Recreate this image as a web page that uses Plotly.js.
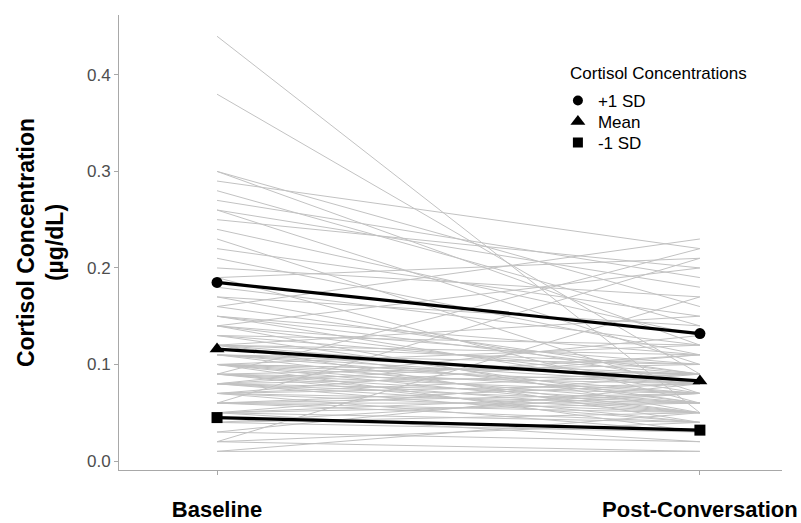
<!DOCTYPE html>
<html>
<head>
<meta charset="utf-8">
<script src="https://cdn.plot.ly/plotly-3.0.1.min.js"></script>
<style>html,body{margin:0;padding:0;background:#fff;}#chart{width:801px;height:523px;}</style>
</head>
<body>
<div id="chart"></div>
<script>
// Time points (categories)
const timeLabels = ["Baseline", "Post-Conversation"];
const timeX = [0, 1];

// Individual participants: baseline and post-conversation cortisol (µg/dL)
const baseline = [0.44,0.38,0.30,0.30,0.29,0.28,0.27,0.26,0.26,0.25,0.24,0.23,0.22,0.21,0.20,0.19,0.19,0.18,0.17,0.17,
  0.16,0.16,0.15,0.15,0.14,0.14,0.13,0.13,0.12,0.12,0.12,0.11,0.11,0.11,0.10,0.10,0.10,0.10,0.09,0.09,
  0.09,0.09,0.08,0.08,0.08,0.08,0.07,0.07,0.07,0.07,0.06,0.06,0.06,0.06,0.05,0.05,0.05,0.05,0.04,0.04,
  0.04,0.03,0.03,0.02,0.02,0.01,0.01,0.02,0.14,0.12,0.10,0.08,
  0.13,0.12,0.11,0.11,0.10,0.10,0.09,0.09,0.08,0.08,0.07,0.07,0.06,0.06,0.05,0.14,0.15,0.12,0.10,0.09];
const post = [0.05,0.09,0.16,0.12,0.22,0.14,0.19,0.10,0.18,0.20,0.13,0.07,0.15,0.11,0.17,0.06,0.21,0.12,0.08,0.14,
  0.09,0.23,0.11,0.07,0.05,0.10,0.06,0.12,0.08,0.04,0.10,0.07,0.09,0.05,0.08,0.06,0.12,0.03,0.07,0.10,
  0.05,0.22,0.06,0.09,0.04,0.13,0.05,0.08,0.03,0.11,0.04,0.07,0.06,0.21,0.04,0.09,0.02,0.06,0.05,0.03,
  0.07,0.02,0.08,0.04,0.01,0.05,0.01,0.17,0.20,0.15,0.09,0.11,
  0.09,0.06,0.08,0.10,0.07,0.09,0.06,0.08,0.07,0.05,0.06,0.09,0.05,0.08,0.07,0.08,0.09,0.11,0.05,0.04];

// Summary lines
const summaryNames = ["+1 SD", "Mean", "-1 SD"];
const summaryBaseline = [0.185, 0.116, 0.045];
const summaryPost = [0.132, 0.083, 0.032];
const summarySymbols = ["circle", "triangle-up", "square"];
const legendTitle = "Cortisol Concentrations";

const traces = [];
for (let i = 0; i < baseline.length; i++) {
  traces.push({
    x: timeX, y: [baseline[i], post[i]], type: "scatter", mode: "lines",
    line: {color: "#c2c2c2", width: 1}, showlegend: false, hoverinfo: "skip"
  });
}
for (let k = 0; k < summaryNames.length; k++) {
  traces.push({
    x: timeX, y: [summaryBaseline[k], summaryPost[k]], type: "scatter", mode: "lines+markers",
    line: {color: "#000", width: 3.2},
    marker: {symbol: summarySymbols[k], color: "#000", size: summarySymbols[k] === "triangle-up" ? 13 : 11},
    showlegend: false, name: summaryNames[k]
  });
}
// Legend-only entries (shapes only), one small legend each for exact spacing
const legendIds = ["legend", "legend2", "legend3"];
for (let k = 0; k < summaryNames.length; k++) {
  traces.push({
    x: [null], y: [null], type: "scatter", mode: "markers", name: summaryNames[k],
    marker: {symbol: summarySymbols[k], color: "#000", size: summarySymbols[k] === "triangle-up" ? 13 : 10},
    showlegend: true, legend: legendIds[k]
  });
}

const legendY = [0.811, 0.765, 0.719];
function legendBox(y) {
  return {x: 0.662, y: y, xanchor: "left", yanchor: "middle",
    font: {size: 17, color: "#000"}, bgcolor: "rgba(0,0,0,0)", itemwidth: 30};
}

const layout = {
  width: 801, height: 523,
  margin: {l: 119, r: 19, t: 15, b: 53},
  paper_bgcolor: "#fff", plot_bgcolor: "#fff",
  font: {family: "Liberation Sans, Arial, sans-serif", color: "#000"},
  xaxis: {
    range: [-0.203, 1.17], tickvals: timeX, ticktext: timeLabels,
    showgrid: false, zeroline: false, showline: true, linecolor: "#a8a8a8", linewidth: 1,
    ticks: "outside", ticklen: 4, tickcolor: "#a8a8a8",
    tickfont: {size: 22, color: "#000", family: "Liberation Sans, Arial, sans-serif", weight: "bold"},
    ticklabelstandoff: 16, ticklabeloverflow: "allow"
  },
  yaxis: {
    range: [-0.0093, 0.462], tickvals: [0, 0.1, 0.2, 0.3, 0.4], ticktext: ["0.0","0.1","0.2","0.3","0.4"],
    showgrid: false, zeroline: false, showline: true, linecolor: "#a8a8a8", linewidth: 1,
    ticks: "outside", ticklen: 4, tickcolor: "#a8a8a8",
    tickfont: {size: 17, color: "#4d4d4d"},
    title: {text: "<b>Cortisol Concentration<br>(µg/dL)</b>", font: {size: 23, color: "#000"}, standoff: 16}
  },
  legend: legendBox(legendY[0]),
  legend2: legendBox(legendY[1]),
  legend3: legendBox(legendY[2]),
  annotations: [{
    text: legendTitle, xref: "paper", yref: "paper", x: 0.677, y: 0.8725,
    xanchor: "left", yanchor: "middle", showarrow: false,
    font: {size: 17, color: "#000"}
  }],
  showlegend: true
};

Plotly.newPlot("chart", traces, layout, {displayModeBar: false, staticPlot: true});
</script>
</body>
</html>
